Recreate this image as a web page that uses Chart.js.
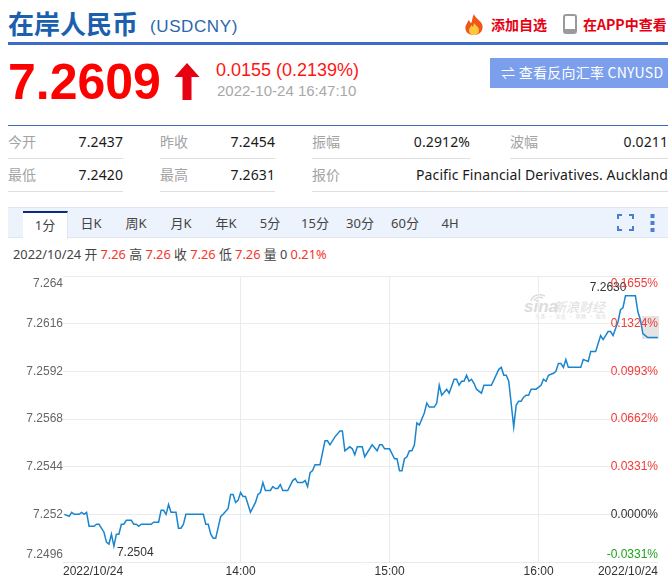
<!DOCTYPE html>
<html lang="zh">
<head>
<meta charset="utf-8">
<title>USDCNY</title>
<script src="https://cdn.jsdelivr.net/npm/chart.js@4"></script>
<style>
html,body{margin:0;padding:0;background:#fff;}
body{width:672px;height:576px;position:relative;overflow:hidden;font-family:"Noto Sans","Noto Sans CJK SC",sans-serif;}
.a{position:absolute;white-space:nowrap;line-height:1;}
.ar{font-family:"Liberation Sans",Arial,sans-serif;}
.lab{color:#a3a3a3;font-size:14px;font-family:"Noto Sans CJK SC",sans-serif;}
.val{color:#1a1a1a;font-size:14px;text-align:right;letter-spacing:.1px;}
.sep{position:absolute;height:1px;background:#dedede;}
.tab{position:absolute;top:217px;font-size:13px;color:#444;line-height:1;transform:translateX(-50%);white-space:nowrap;font-family:"Noto Sans","Noto Sans CJK SC",sans-serif;}
.r{color:#f5352b}
#c{position:absolute;left:0;top:265px;}
</style>
</head>
<body>
<div class="a" style="left:8px;top:10px;font-size:26px;font-weight:700;color:#1b5fad;font-family:'Noto Sans CJK SC',sans-serif;">在岸人民币</div>
<div class="a ar" style="left:150px;top:18px;font-size:17px;color:#2b66ad;letter-spacing:.6px;">(USDCNY)</div>
<svg class="a" style="left:463px;top:14px;" width="22" height="22" viewBox="0 0 22 22"><path d="M11 0c1 4 6 6 8 10 2 5-1 11-8 11S1 16 3 11c1-2 2-3 2.500-5 1 1 2 2 2.500 3.500C9.500 7 9 3 11 0z" fill="#f0561c"/><path d="M11 9c1 2 5 4 5 7 0 3-2 5-5 5s-5-2-5-5c0-2 2-3 2.500-5 .5 1 1 1.500 1.500 2 .5-1 .5-3 1-4z" fill="#fdc93a"/></svg>
<div class="a" style="left:491px;top:17px;font-size:14px;font-weight:700;color:#e60012;font-family:'Noto Sans CJK SC',sans-serif;">添加自选</div>
<svg class="a" style="left:563px;top:14px;" width="14" height="20" viewBox="0 0 14 20"><rect x="1" y="1" width="12" height="18" rx="2" fill="#fff" stroke="#9a9a9a" stroke-width="2"/><rect x="1" y="15" width="12" height="4" fill="#9a9a9a"/></svg>
<div class="a" style="left:583px;top:17px;font-size:14px;font-weight:700;color:#e60012;font-family:'Noto Sans CJK SC',sans-serif;">在APP中查看</div>
<div class="a" style="left:8px;top:42px;width:660px;height:3px;background:#3d6cc9;"></div>

<div class="a ar" style="left:8px;top:57px;font-size:50px;font-weight:700;color:#ff0000;">7.2609</div>
<svg class="a" style="left:174px;top:63px;" width="26" height="38" viewBox="0 0 26 38"><path d="M13 0L25.500 14H17.500V37H8.500V14H.5z" fill="#e60012"/></svg>
<div class="a ar" style="left:216px;top:61px;font-size:18px;color:#ff1414;">0.0155 (0.2139%)</div>
<div class="a ar" style="left:217px;top:83px;font-size:15px;color:#a8a8a8;">2022-10-24 16:47:10</div>
<div class="a" style="left:490px;top:58px;width:178px;height:30px;background:#7b9fec;"></div>
<div class="a" style="left:501px;top:65px;font-size:14px;color:#fff;letter-spacing:.25px;font-family:'Noto Sans CJK SC',sans-serif;">⇌ 查看反向汇率 CNYUSD</div>

<div class="a" style="left:8px;top:125px;width:660px;height:1px;background:#3a6cb8;"></div>
<div class="a lab" style="left:8px;top:134px;">今开</div><div class="a val" style="right:549px;top:135px;">7.2437</div>
<div class="a lab" style="left:160px;top:134px;">昨收</div><div class="a val" style="right:397px;top:135px;">7.2454</div>
<div class="a lab" style="left:312px;top:134px;">振幅</div><div class="a val" style="right:202px;top:135px;">0.2912%</div>
<div class="a lab" style="left:510px;top:134px;">波幅</div><div class="a val" style="right:4px;top:135px;">0.0211</div>
<div class="a lab" style="left:8px;top:167px;">最低</div><div class="a val" style="right:549px;top:168px;">7.2420</div>
<div class="a lab" style="left:160px;top:167px;">最高</div><div class="a val" style="right:397px;top:168px;">7.2631</div>
<div class="a lab" style="left:312px;top:167px;">报价</div><div class="a val" style="right:4px;top:168px;letter-spacing:.11px;">Pacific Financial Derivatives. Auckland</div>
<div class="sep" style="left:8px;top:158px;width:115px;"></div><div class="sep" style="left:160px;top:158px;width:115px;"></div><div class="sep" style="left:312px;top:158px;width:158px;"></div><div class="sep" style="left:510px;top:158px;width:158px;"></div>
<div class="sep" style="left:8px;top:191px;width:115px;"></div><div class="sep" style="left:160px;top:191px;width:115px;"></div><div class="sep" style="left:312px;top:191px;width:356px;"></div>

<div class="a" style="left:8px;top:207px;width:660px;height:31px;background:#edf3fc;border-top:1px solid #dfe6f1;border-bottom:1px solid #dfe6f1;box-sizing:border-box;"></div>
<div class="a" style="left:23px;top:211px;width:45px;height:28px;background:#fff;border-top:2px solid #0b2a80;box-sizing:border-box;border-right:1px solid #dfe6f1;"></div>
<div class="tab" style="left:45px;top:219px;">1分</div><div class="tab" style="left:91px;">日K</div><div class="tab" style="left:136px;">周K</div><div class="tab" style="left:181px;">月K</div><div class="tab" style="left:226px;">年K</div><div class="tab" style="left:270px;">5分</div><div class="tab" style="left:315px;">15分</div><div class="tab" style="left:360px;">30分</div><div class="tab" style="left:405px;">60分</div><div class="tab" style="left:450px;">4H</div>
<svg class="a" style="left:617px;top:214px;" width="17" height="17" viewBox="0 0 17 17"><path d="M1 5V1H5M12 1H16V5M16 12V16H12M5 16H1V12" fill="none" stroke="#4a7fce" stroke-width="2"/></svg>
<svg class="a" style="left:650px;top:213px;" width="5" height="19" viewBox="0 0 5 19"><rect x="0.500" y="1" width="4" height="4" fill="#4a7fce"/><rect x="0.500" y="8" width="4" height="4" fill="#4a7fce"/><rect x="0.500" y="15" width="4" height="4" fill="#4a7fce"/></svg>
<div class="a" style="left:13px;top:248px;font-size:12.8px;color:#444;font-family:'Noto Sans','Noto Sans CJK SC',sans-serif;">2022/10/24 开 <span class="r">7.26</span> 高 <span class="r">7.26</span> 收 <span class="r">7.26</span> 低 <span class="r">7.26</span> 量 0 <span class="r">0.21%</span></div>

<div class="a" style="left:642px;top:316px;width:17px;height:23px;background:#e4e4e4;"></div>
<svg class="a" style="left:530px;top:293px;" width="16" height="9" viewBox="0 0 16 9"><path d="M1 8C2 3 8 0 15 3M4 8C5 5 9 3 13 5" fill="none" stroke="#dcdcdc" stroke-width="1.500"/></svg>
<div class="a ar" style="left:524px;top:298px;font-size:17px;font-weight:700;font-style:italic;color:#dcdcdc;">sina</div>
<div class="a" style="left:553px;top:300px;font-size:13px;font-style:italic;color:#e0e0e0;font-family:'Noto Sans CJK SC',sans-serif;">新浪财经</div>
<div class="a" style="left:535px;top:313px;font-size:5px;color:#dcdcdc;font-family:'Noto Sans CJK SC',sans-serif;letter-spacing:.6px;">头条 · 深度 · 观察 · 服务</div>

<canvas id="c" width="672" height="311"></canvas>

<script>
const minutes = [769,771,772,773,775,776,777,778,779,781,782,783,785,786,787,788,789,790,791,792,793,794,796,797,798,799,800,804,805,807,808,809,810,811,812,814,815,816,817,818,825,826,827,828,829,830,832,833,835,836,837,838,839,840,841,842,844,846,847,848,849,850,852,853,854,855,856,857,859,861,862,863,865,866,867,868,869,870,872,874,875,876,878,880,881,882,884,885,886,887,889,890,893,895,896,897,898,900,902,903,904,905,906,907,908,909,910,911,912,914,915,916,918,919,920,921,923,924,926,927,928,929,930,931,932,933,934,935,937,938,941,944,945,946,947,948,950,951,952,953,954,955,956,957,959,961,962,963,964,966,967,968,969,970,971,972,977,978,980,981,983,985,986,988,989,990,992,993,994,995,996,999,1000,1001,1002,1003,1004,1005,1008];
const prices = [7.2520,7.2519,7.2521,7.2520,7.2520,7.2521,7.2520,7.2521,7.2514,7.2514,7.2515,7.2515,7.2511,7.2506,7.2505,7.2510,7.2504,7.2510,7.2510,7.2515,7.2515,7.2517,7.2517,7.2515,7.2515,7.2514,7.2515,7.2515,7.2516,7.2516,7.2522,7.2522,7.2520,7.2525,7.2521,7.2521,7.2513,7.2513,7.2515,7.2520,7.2520,7.2515,7.2515,7.2510,7.2508,7.2508,7.2519,7.2520,7.2523,7.2530,7.2530,7.2526,7.2527,7.2531,7.2529,7.2529,7.2521,7.2526,7.2530,7.2531,7.2536,7.2532,7.2532,7.2534,7.2533,7.2533,7.2535,7.2532,7.2532,7.2537,7.2538,7.2536,7.2536,7.2537,7.2534,7.2541,7.2542,7.2545,7.2545,7.2557,7.2557,7.2555,7.2559,7.2562,7.2562,7.2552,7.2554,7.2553,7.2550,7.2554,7.2554,7.2549,7.2555,7.2552,7.2555,7.2555,7.2553,7.2553,7.2548,7.2548,7.2542,7.2542,7.2548,7.2549,7.2552,7.2552,7.2555,7.2566,7.2565,7.2571,7.2576,7.2574,7.2574,7.2576,7.2585,7.2580,7.2583,7.2581,7.2588,7.2588,7.2585,7.2587,7.2587,7.2590,7.2587,7.2588,7.2586,7.2583,7.2581,7.2585,7.2585,7.2593,7.2594,7.2590,7.2590,7.2587,7.2564,7.2575,7.2577,7.2577,7.2579,7.2580,7.2580,7.2583,7.2583,7.2585,7.2588,7.2587,7.2590,7.2591,7.2592,7.2596,7.2596,7.2594,7.2598,7.2594,7.2594,7.2598,7.2597,7.2602,7.2602,7.2610,7.2608,7.2612,7.2612,7.2610,7.2617,7.2623,7.2624,7.2630,7.2630,7.2630,7.2622,7.2618,7.2611,7.2610,7.2609,7.2609,7.2609];
const priceTicks = [7.2496,7.2520,7.2544,7.2568,7.2592,7.2616,7.2640];
const priceTickLabels = ['7.2496','7.252','7.2544','7.2568','7.2592','7.2616','7.264'];
const pctTicks = [-0.0331,0,0.0331,0.0662,0.0993,0.1324,0.1655];
const pctTickLabels = ['-0.0331%','0.0000%','0.0331%','0.0662%','0.0993%','0.1324%','0.1655%'];
const timeTicks = [768.5,840,900,960,1008.1];
const timeTickLabels = ['2022/10/24','14:00','15:00','16:00','2022/10/24'];
const extremeLabels = [
  {minute:789, price:7.2504, text:'7.2504', align:'left', dx:3, dy:7},
  {minute:995, price:7.2630, text:'7.2630', align:'right', dx:1, dy:-8}
];

const FONT = '"Liberation Sans", Arial, sans-serif';
const setTicks = arr => scale => { scale.ticks = arr.map(value => ({value})); };
const edge = (label, i, n) => i === n - 1 ? ['', label] : i === 0 ? [label, ''] : label;
const noOverhang = s => { s.paddingTop = 0; s.paddingBottom = 0; s.paddingLeft = 0; s.paddingRight = 0; };

const extremes = {
  id: 'extremes',
  afterDatasetsDraw(chart) {
    const {ctx, scales} = chart;
    ctx.save();
    ctx.font = '12px ' + FONT;
    ctx.fillStyle = '#333';
    ctx.textBaseline = 'middle';
    extremeLabels.forEach(e => {
      ctx.textAlign = e.align;
      ctx.fillText(e.text, scales.x.getPixelForValue(e.minute) + e.dx, scales.y.getPixelForValue(e.price) + e.dy);
    });
    ctx.restore();
  }
};

new Chart(document.getElementById('c'), {
  type: 'line',
  data: {
    labels: minutes,
    datasets: [{
      data: minutes.map((m, i) => ({x: m, y: prices[i]})),
      borderColor: '#1a85cf',
      borderWidth: 1.5,
      pointRadius: 0,
      tension: 0,
      fill: false,
      yAxisID: 'y'
    }]
  },
  plugins: [extremes],
  options: {
    responsive: false,
    animation: false,
    devicePixelRatio: 1,
    layout: {padding: {left: 0, right: 14, top: 11, bottom: 0}},
    plugins: {legend: {display: false}, tooltip: {enabled: false}},
    scales: {
      x: {
        type: 'linear',
        min: 768.5,
        max: 1008.1,
        afterBuildTicks: setTicks(timeTicks),
        afterFit: s => { s.height = 14; noOverhang(s); },
        border: {display: false},
        grid: {
          drawTicks: false,
          color: c => (c.index === 0 || c.index === timeTicks.length - 1) ? 'rgba(0,0,0,0)' : '#ebebeb'
        },
        ticks: {
          autoSkip: false, maxRotation: 0, align: 'inner', padding: 2,
          color: '#333', font: {family: FONT, size: 12},
          callback: (v, i) => timeTickLabels[i]
        }
      },
      y: {
        position: 'left',
        min: 7.2496,
        max: 7.264,
        afterBuildTicks: setTicks(priceTicks),
        afterFit: s => { s.width = 63; noOverhang(s); },
        border: {display: false},
        grid: {drawTicks: false, color: '#ebebeb'},
        ticks: {
          autoSkip: false, padding: 0, color: '#666', font: {family: FONT, size: 12},
          callback: (v, i) => edge(priceTickLabels[i], i, priceTicks.length)
        }
      },
      y1: {
        position: 'right',
        min: -0.0331,
        max: 0.1655,
        afterBuildTicks: setTicks(pctTicks),
        afterFit: s => { s.width = 0; noOverhang(s); },
        border: {display: false},
        grid: {display: false, drawTicks: false},
        ticks: {
          autoSkip: false, mirror: true, padding: 0, font: {family: FONT, size: 12}, z: 2,
          color: c => c.index === 0 ? '#1aa51a' : c.index === 1 ? '#333333' : '#f23a3a',
          callback: (v, i) => edge(pctTickLabels[i], i, pctTicks.length)
        }
      }
    }
  }
});
</script>
</body>
</html>
